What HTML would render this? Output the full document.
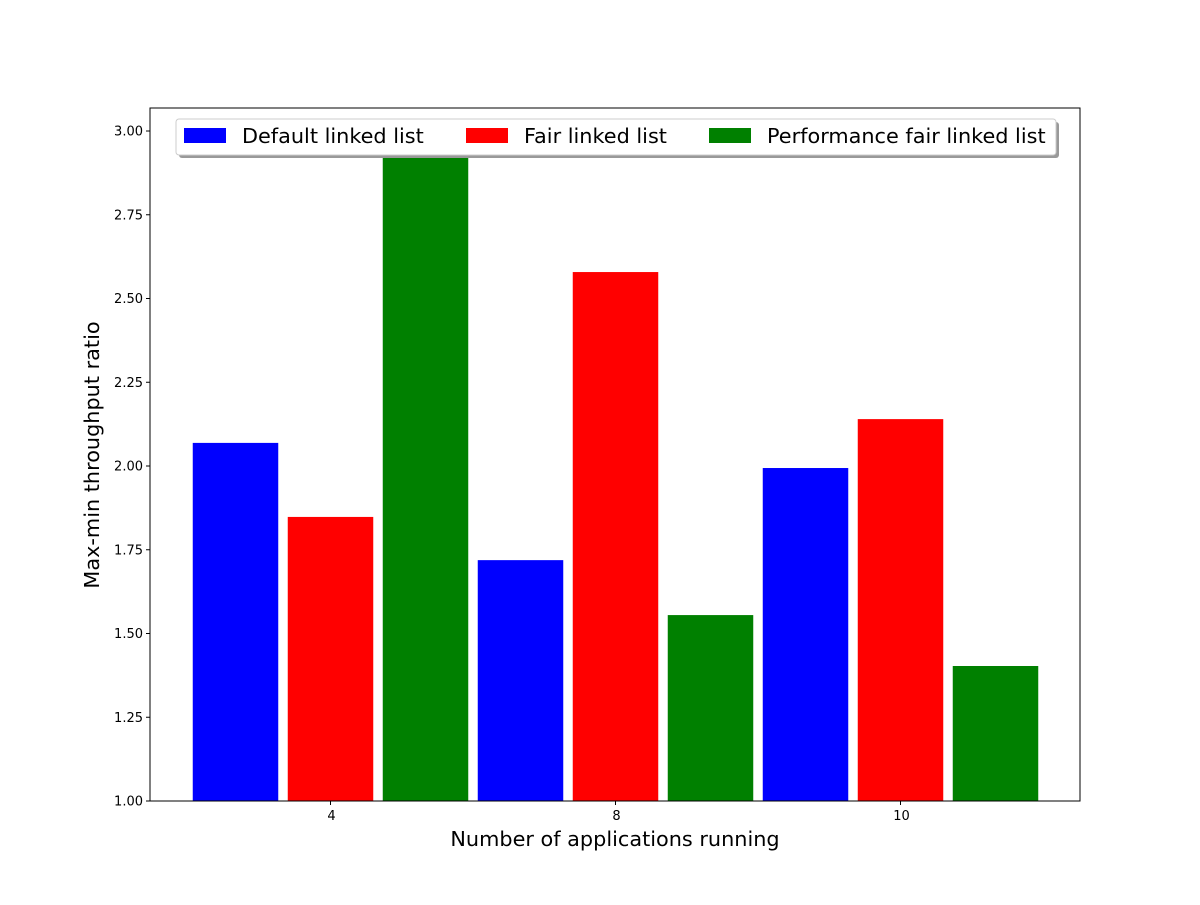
<!DOCTYPE html>
<html><head><meta charset="utf-8"><style>
body{margin:0;background:#fff}
svg text{font-family:"DejaVu Sans","Liberation Sans",sans-serif}
</style></head><body>
<svg id="chart" width="1200" height="900" xmlns="http://www.w3.org/2000/svg">
<defs><clipPath id="plotclip"><rect x="150" y="108" width="930" height="693"/></clipPath></defs>
<rect width="1200" height="900" fill="#fff"/>
<g id="bars" clip-path="url(#plotclip)"></g>
<g id="axes"></g>
</svg>
<script>
const categories = ["4", "8", "10"];
const seriesNames = ["Default linked list", "Fair linked list", "Performance fair linked list"];
const seriesColors = ["#0000ff", "#ff0000", "#008000"];
const defaultVals = [2.069, 1.719, 1.994];
const fairVals = [1.848, 2.579, 2.140];
const perfVals = [2.95, 1.555, 1.403];
const yTicks = [1.00, 1.25, 1.50, 1.75, 2.00, 2.25, 2.50, 2.75, 3.00];

const NS = "http://www.w3.org/2000/svg";
const yMin = 1.0, yMax = 3.0687;
const plotL = 150, plotR = 1080, plotT = 108, plotB = 801;
function y(v){ return plotB - (v - yMin) / (yMax - yMin) * (plotB - plotT); }
function xIdx(i){ return 235.5 + i * 95; }
const barW = 85.5;
function mk(tag, attrs, parent){ const e = document.createElementNS(NS, tag); for (const k in attrs) e.setAttribute(k, attrs[k]); parent.appendChild(e); return e; }

const barsG = document.getElementById('bars');
const axesG = document.getElementById('axes');
const all = [defaultVals, fairVals, perfVals];
categories.forEach((c, ci) => {
  all.forEach((vals, si) => {
    const i = ci * 3 + si;
    const r = mk('rect', {x: xIdx(i) - barW/2, y: y(vals[ci]), width: barW, height: y(yMin) - y(vals[ci]), fill: seriesColors[si]}, barsG);
    
    
  });
});
const frame = mk('rect', {x: plotL, y: plotT, width: plotR - plotL, height: plotB - plotT, fill: 'none', stroke: '#000', 'stroke-width': 1}, axesG);


yTicks.forEach(t => {
  mk('line', {x1: plotL - 4, x2: plotL, y1: y(t), y2: y(t), stroke: '#000'}, axesG);
  const tx = mk('text', {x: plotL - 7, y: y(t) + 4.5, 'text-anchor': 'end', 'font-size': 13}, axesG);
  tx.textContent = t.toFixed(2);
  
  
});
categories.forEach((c, ci) => {
  const cx = xIdx(ci * 3 + 1);
  mk('line', {x1: cx, x2: cx, y1: plotB, y2: plotB + 4, stroke: '#000'}, axesG);
  const tx = mk('text', {x: cx + 1, y: plotB + 19, 'text-anchor': 'middle', 'font-size': 13}, axesG);
  tx.textContent = c;
  
  
});
const xt = mk('text', {x: 615, y: 846, 'text-anchor': 'middle', 'font-size': 20.8}, axesG);
xt.textContent = 'Number of applications running';


const yt = mk('text', {x: 99, y: 455, 'text-anchor': 'middle', 'font-size': 20.8, transform: 'rotate(-90 99 455)'}, axesG);
yt.textContent = 'Max-min throughput ratio';



const lg = mk('g', {}, axesG);


mk('rect', {x: 179, y: 122, width: 880, height: 36, rx: 3, fill: '#999'}, lg);
mk('rect', {x: 176, y: 119, width: 880, height: 36, rx: 3, fill: '#fff', stroke: '#ccc'}, lg);
const lx = [184, 466, 709];
seriesNames.forEach((n, si) => {
  mk('rect', {x: lx[si], y: 128, width: 42, height: 15, fill: seriesColors[si]}, lg);
  const t = mk('text', {x: lx[si] + 58, y: 143, 'font-size': 20.8}, lg);
  t.textContent = n;
  
  
});
</script>
</body></html>
